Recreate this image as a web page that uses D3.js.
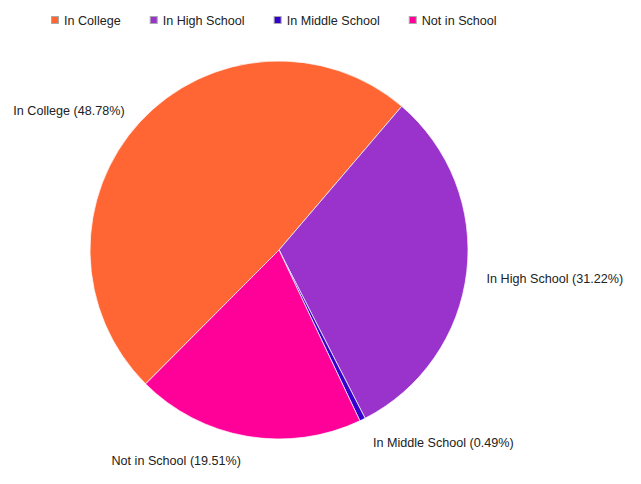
<!DOCTYPE html>
<meta charset="utf-8">
<style>
body { margin: 0; background: #fff; }
text { font-family: Arial, "Liberation Sans", sans-serif; font-size: 12.6px; fill: #222; }
</style>
<body>
<script src="https://cdn.jsdelivr.net/npm/d3@7"></script>
<script>

// data
var categories = ["In College", "In High School", "In Middle School", "Not in School"];
var values = [48.78, 31.22, 0.49, 19.51];
var colors = ["#ff6633", "#9933cc", "#3300cc", "#ff0099"];

var width = 641, height = 484;
var cx = 279, cy = 250, radius = 189;
var labelR = 206;

var svg = d3.select("body").append("svg")
    .attr("width", width)
    .attr("height", height);

var data = categories.map(function(c, i) { return {name: c, value: values[i], color: colors[i]}; });

// first slice starts a bit past 7 o'clock
var start = -135.1 * Math.PI / 180;
var pie = d3.pie()
    .sort(null)
    .value(function(d) { return d.value; })
    .startAngle(start)
    .endAngle(start + 2 * Math.PI);

var arc = d3.arc().innerRadius(0).outerRadius(radius);

var g = svg.append("g")
    .attr("transform", "translate(" + cx + "," + cy + ")");

var arcs = pie(data);

g.selectAll("path")
    .data(arcs)
  .enter().append("path")
    .attr("d", arc)
    .attr("fill", function(d) { return d.data.color; })
    .attr("stroke", "#fff")
    .attr("stroke-width", 0.7);

// slice labels outside the pie
g.selectAll(".lbl")
    .data(arcs)
  .enter().append("text")
    .attr("class", "lbl")
    .each(function(d) {
      var a = (d.startAngle + d.endAngle) / 2;
      var s = Math.sin(a), c = Math.cos(a);
      var x = labelR * s + (s >= 0 ? 3 : -3);
      var y = -labelR * c + 4.5 * (1 - c) + 3.5;
      d3.select(this)
        .attr("x", x)
        .attr("y", y)
        .attr("text-anchor", s >= 0 ? "start" : "end")
        .text(d.data.name + " (" + d.data.value.toFixed(2) + "%)");
    });

// legend across the top
var legend = svg.append("g").attr("transform", "translate(51,16)");
var lx = 0;
data.forEach(function(d) {
  var item = legend.append("g").attr("transform", "translate(" + lx + ",0)");
  item.append("rect")
      .attr("x", 0.5).attr("y", 0.5)
      .attr("width", 7).attr("height", 7)
      .attr("fill", d.color)
      .attr("stroke", "#aaa")
      .attr("stroke-width", 1);
  var t = item.append("text")
      .attr("x", 13)
      .attr("y", 8.5)
      .text(d.name);
  lx += 13 + t.node().getComputedTextLength() + 29;
});

</script>
</body>
